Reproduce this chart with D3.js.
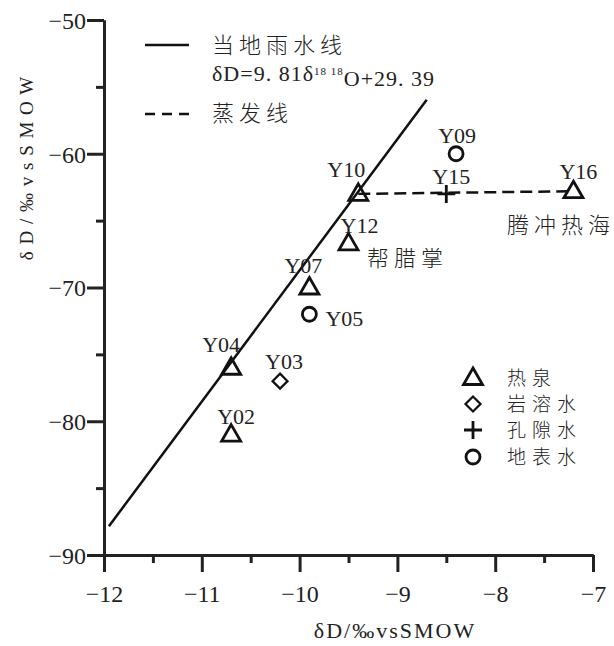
<!DOCTYPE html>
<html>
<head>
<meta charset="utf-8">
<script src="https://cdn.jsdelivr.net/npm/d3@7"></script>
<style>
	body { margin: 0; background: #fff; }
	text { fill: #222; }
</style>
</head>
<body>
<div id="chart"></div>
<script>
// samples: delta18O (x) and deltaD (y)
var sampleIds = ["Y02", "Y03", "Y04", "Y05", "Y07", "Y09", "Y10", "Y12", "Y15", "Y16"];
var d18O = [-10.7, -10.2, -10.7, -9.9, -9.9, -8.4, -9.4, -9.5, -8.5, -7.2];
var dD = [-81, -77, -76, -72, -70, -60, -63, -66.7, -63, -62.8];
var waterType = ["热泉", "岩溶水", "热泉", "地表水", "热泉", "地表水", "热泉", "热泉", "孔隙水", "热泉"];

// local meteoric water line and evaporation line end points
var lmwlX = [-11.95, -8.7];
var lmwlY = [-87.85, -55.96];
var evapX = [-9.4, -7.2];
var evapY = [-63, -62.8];

var xTicks = [-12, -11, -10, -9, -8, -7];
var yTicks = [-90, -80, -70, -60, -50];
var typeLegend = ["热泉", "岩溶水", "孔隙水", "地表水"];

var SERIF = '"Liberation Serif", "DejaVu Serif", serif';
var CJK = '"Noto Sans CJK SC", sans-serif';

drawChart("chart");

function drawChart(container){
	var width = 614, height = 646;
	var svg = d3.select("#" + container).append("svg")
		.attr("width", width)
		.attr("height", height);

	var x = d3.scaleLinear().domain([-12, -7]).range([104, 593]);
	var y = d3.scaleLinear().domain([-90, -50]).range([555, 20]);

	// minor ticks (half units)
	var xMinor = d3.range(-11.5, -7, 1);
	var yMinor = d3.range(-85, -50, 10);

	var yAxis = svg.append("g").attr("transform", "translate(" + x(-12) + ",0)")
		.call(d3.axisLeft(y).tickValues(yTicks).tickSize(17).tickSizeOuter(0)
			.tickFormat(function(d){ return "\u2212" + Math.abs(d); }));
	svg.append("g").attr("transform", "translate(" + x(-12) + ",0)")
		.call(d3.axisLeft(y).tickValues(yMinor).tickSize(8).tickSizeOuter(0).tickFormat(""));

	var xAxis = svg.append("g").attr("transform", "translate(0," + y(-90) + ")")
		.call(d3.axisBottom(x).tickValues(xTicks).tickSize(17).tickSizeOuter(0)
			.tickFormat(function(d){ return "\u2212" + Math.abs(d); }));
	svg.append("g").attr("transform", "translate(0," + y(-90) + ")")
		.call(d3.axisBottom(x).tickValues(xMinor).tickSize(8).tickSizeOuter(0).tickFormat(""));

	svg.selectAll("g").attr("font-family", null).attr("font-size", null);
	svg.selectAll(".domain").attr("stroke", "#222").attr("stroke-width", 3);
	svg.selectAll(".tick line").attr("stroke", "#222").attr("stroke-width", 3);
	svg.selectAll(".tick text")
		.style("font-family", SERIF)
		.style("font-size", "24px")
		.attr("fill", "#222");
	yAxis.selectAll(".tick text").attr("x", -18).attr("dy", "0.35em");
	xAxis.selectAll(".tick text").attr("y", 30);

	// axis titles
	svg.append("text")
		.attr("transform", "translate(26,168) rotate(-90)")
		.attr("text-anchor", "middle")
		.attr("dy", "0.35em")
		.style("font-family", SERIF)
		.style("font-size", "19px")
		.style("letter-spacing", "1px")
		.text("δ D / ‰ v s S M O W");
	svg.append("text")
		.attr("x", 395).attr("y", 638)
		.attr("text-anchor", "middle")
		.style("font-family", SERIF)
		.style("font-size", "22px")
		.style("letter-spacing", "2px")
		.text("δD/‰vsSMOW");

	// lines
	var line = d3.line().x(function(d){ return x(d[0]); }).y(function(d){ return y(d[1]); });
	svg.append("path")
		.datum(d3.zip(lmwlX, lmwlY))
		.attr("d", line)
		.attr("fill", "none").attr("stroke", "#111").attr("stroke-width", 2.5);
	svg.append("path")
		.datum(d3.zip(evapX, evapY))
		.attr("d", line)
		.attr("fill", "none").attr("stroke", "#111").attr("stroke-width", 2.5)
		.attr("stroke-dasharray", "12,6");

	// marker shapes
	var symbols = {
		"热泉": { draw: function(c){ c.moveTo(0, -10); c.lineTo(9.5, 6.5); c.lineTo(-9.5, 6.5); c.closePath(); } },
		"岩溶水": { draw: function(c){ c.moveTo(0, -7.5); c.lineTo(7.5, 0); c.lineTo(0, 7.5); c.lineTo(-7.5, 0); c.closePath(); } },
		"孔隙水": { draw: function(c){ c.moveTo(-9, 0); c.lineTo(9, 0); c.moveTo(0, -9); c.lineTo(0, 9); } },
		"地表水": { draw: function(c){ c.moveTo(7, 0); c.arc(0, 0, 7, 0, 2 * Math.PI); } }
	};
	function symbolPath(type){ return d3.symbol().type(symbols[type])(); }

	var points = sampleIds.map(function(id, i){
		return { id: id, x: d18O[i], y: dD[i], type: waterType[i] };
	});

	svg.selectAll(".pt")
		.data(points)
		.enter()
		.append("path")
		.attr("class", "pt")
		.attr("transform", function(d){ return "translate(" + x(d.x) + "," + y(d.y) + ")"; })
		.attr("d", function(d){ return symbolPath(d.type); })
		.attr("fill", "none")
		.attr("stroke", "#111")
		.attr("stroke-width", function(d){ return d.type == "岩溶水" ? 2.2 : 2.8; });

	// label offsets in pixels from each point
	var labelOffset = {
		Y02: [5, -18], Y03: [4, -20], Y04: [-10, -23], Y05: [35, 4], Y07: [-6, -22],
		Y09: [1, -18], Y10: [-12, -25], Y12: [11, -18], Y15: [5, -18], Y16: [5, -20]
	};
	svg.selectAll(".ptlabel")
		.data(points)
		.enter()
		.append("text")
		.attr("class", "ptlabel")
		.attr("x", function(d){ return x(d.x) + labelOffset[d.id][0]; })
		.attr("y", function(d){ return y(d.y) + labelOffset[d.id][1]; })
		.attr("dy", "0.35em")
		.attr("text-anchor", "middle")
		.style("font-family", SERIF)
		.style("font-size", "22px")
		.text(function(d){ return d.id; });

	// area names
	svg.append("text")
		.attr("x", 367).attr("y", 258).attr("dy", "0.35em")
		.style("font-family", CJK).style("font-weight", 300)
		.style("font-size", "22px").style("letter-spacing", "5px")
		.text("帮腊掌");
	svg.append("text")
		.attr("x", 507).attr("y", 225).attr("dy", "0.35em")
		.style("font-family", CJK).style("font-weight", 300)
		.style("font-size", "22px").style("letter-spacing", "5px")
		.text("腾冲热海");

	// line legend
	var lg = svg.append("g");
	lg.append("line").attr("x1", 145).attr("x2", 189).attr("y1", 45).attr("y2", 45)
		.attr("stroke", "#111").attr("stroke-width", 2.5);
	lg.append("line").attr("x1", 145).attr("x2", 189).attr("y1", 114).attr("y2", 114)
		.attr("stroke", "#111").attr("stroke-width", 2.5).attr("stroke-dasharray", "10,7");
	lg.append("text")
		.attr("x", 212).attr("y", 45).attr("dy", "0.35em")
		.style("font-family", CJK).style("font-weight", 300)
		.style("font-size", "22px").style("letter-spacing", "5px")
		.text("当地雨水线");
	var eq = lg.append("text")
		.attr("x", 212).attr("y", 73).attr("dy", "0.35em")
		.style("font-family", SERIF)
		.style("font-size", "22px").style("letter-spacing", "1px");
	eq.append("tspan").text("δD=9. 81δ");
	eq.append("tspan").attr("dy", "-0.5em").style("font-size", "11px").text("18 18");
	eq.append("tspan").attr("dy", "0.5em").text("O+29. 39");
	lg.append("text")
		.attr("x", 212).attr("y", 113).attr("dy", "0.35em")
		.style("font-family", CJK).style("font-weight", 300)
		.style("font-size", "22px").style("letter-spacing", "5px")
		.text("蒸发线");

	// marker legend
	var mg = svg.selectAll(".mleg")
		.data(typeLegend)
		.enter()
		.append("g")
		.attr("class", "mleg")
		.attr("transform", function(d, i){ return "translate(473," + [378, 404, 430, 457][i] + ")"; });
	mg.append("path")
		.attr("d", function(d){ return symbolPath(d); })
		.attr("fill", "none").attr("stroke", "#111")
		.attr("stroke-width", function(d){ return d == "岩溶水" ? 2.2 : 2.8; });
	mg.append("text")
		.attr("x", 34).attr("dy", "0.35em")
		.style("font-family", CJK).style("font-weight", 300)
		.style("font-size", "19px").style("letter-spacing", "6px")
		.text(function(d){ return d; });
}
</script>
</body>
</html>
